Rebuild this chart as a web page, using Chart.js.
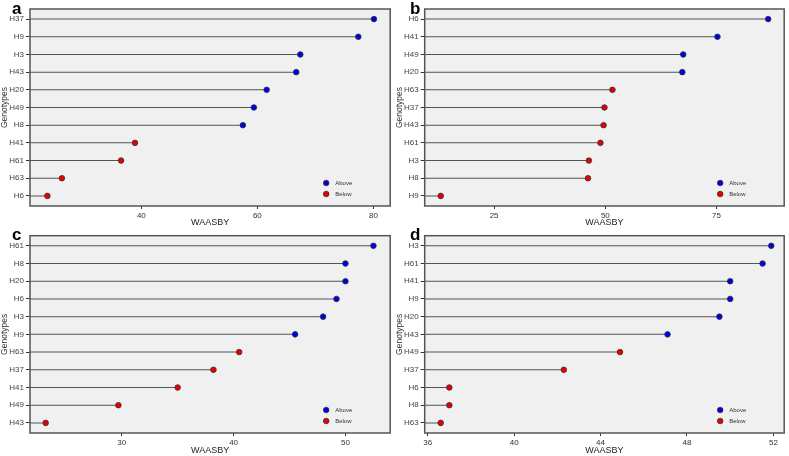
<!DOCTYPE html>
<html>
<head>
<meta charset="utf-8">
<script src="https://cdn.jsdelivr.net/npm/chart.js@4.4.0/dist/chart.umd.min.js"></script>
<style>
  body { margin: 0; background: #fff; width: 789px; height: 456px; position: relative; overflow: hidden; }
  .panel { position: absolute; }
</style>
</head>
<body>
<div class="panel" style="left:0;top:0"><canvas id="ca" width="395" height="228"></canvas></div>
<div class="panel" style="left:395px;top:0"><canvas id="cb" width="394" height="228"></canvas></div>
<div class="panel" style="left:0;top:228px"><canvas id="cc" width="395" height="228"></canvas></div>
<div class="panel" style="left:395px;top:228px"><canvas id="cd" width="394" height="228"></canvas></div>
<script>
// Datos de cada panel (de arriba hacia abajo)
const aGenotypes = ['H37', 'H9', 'H3', 'H43', 'H20', 'H49', 'H8', 'H41', 'H61', 'H63', 'H6'];
const aValues = [80.1, 77.4, 67.4, 66.7, 61.6, 59.4, 57.5, 38.9, 36.5, 26.3, 23.8];
const aGroups = ['Above', 'Above', 'Above', 'Above', 'Above', 'Above', 'Above', 'Below', 'Below', 'Below', 'Below'];
const aTicks = [40, 60, 80];

const bGenotypes = ['H6', 'H41', 'H49', 'H20', 'H63', 'H37', 'H43', 'H61', 'H3', 'H8', 'H9'];
const bValues = [86.6, 75.2, 67.5, 67.3, 51.6, 49.8, 49.6, 48.9, 46.3, 46.1, 13.0];
const bGroups = ['Above', 'Above', 'Above', 'Above', 'Below', 'Below', 'Below', 'Below', 'Below', 'Below', 'Below'];
const bTicks = [25, 50, 75];

const cGenotypes = ['H61', 'H8', 'H20', 'H6', 'H3', 'H9', 'H63', 'H37', 'H41', 'H49', 'H43'];
const cValues = [52.5, 50.0, 50.0, 49.2, 48.0, 45.5, 40.5, 38.2, 35.0, 29.7, 23.2];
const cGroups = ['Above', 'Above', 'Above', 'Above', 'Above', 'Above', 'Below', 'Below', 'Below', 'Below', 'Below'];
const cTicks = [30, 40, 50];

const dGenotypes = ['H3', 'H61', 'H41', 'H9', 'H20', 'H43', 'H49', 'H37', 'H6', 'H8', 'H63'];
const dValues = [51.9, 51.5, 50.0, 50.0, 49.5, 47.1, 44.9, 42.3, 37.0, 37.0, 36.6];
const dGroups = ['Above', 'Above', 'Above', 'Above', 'Above', 'Above', 'Below', 'Below', 'Below', 'Below', 'Below'];
const dTicks = [36, 40, 44, 48, 52];

const groupColors = { Above: '#0000e8', Below: '#e80000' };
const FONT = '"Liberation Sans", Arial, sans-serif';

// Fondo, marco, leyenda interna y letra del panel
const panelDecor = {
    id: 'panelDecor',
    beforeDraw(chart) {
        const { ctx, chartArea: a } = chart;
        ctx.save();
        ctx.fillStyle = '#f0f0f0';
        ctx.fillRect(a.left, a.top, a.right - a.left, a.bottom - a.top);
        ctx.restore();
    },
    afterDraw(chart, args, opts) {
        const { ctx, chartArea: a } = chart;
        ctx.save();
        ctx.strokeStyle = '#555';
        ctx.lineWidth = 1.5;
        ctx.strokeRect(a.left, a.top, a.right - a.left, a.bottom - a.top);

        // leyenda
        const pts = chart.data.datasets.filter(d => d.type === 'scatter');
        pts.forEach((ds, i) => {
            const x = a.right - 64;
            const y = a.bottom - 23 + i * 11;
            ctx.beginPath();
            ctx.arc(x, y, 2.8, 0, Math.PI * 2);
            ctx.fillStyle = ds.backgroundColor;
            ctx.fill();
            ctx.lineWidth = 0.8;
            ctx.strokeStyle = '#333';
            ctx.stroke();
            ctx.fillStyle = '#333';
            ctx.font = '6px ' + FONT;
            ctx.textBaseline = 'middle';
            ctx.fillText(ds.label, x + 9, y + 0.5);
        });

        // letra del panel
        ctx.fillStyle = '#000';
        ctx.font = 'bold 17px ' + FONT;
        ctx.textBaseline = 'alphabetic';
        ctx.fillText(opts.letter, opts.lx, opts.ly);
        ctx.restore();
    }
};

function makePanel(id, genotypes, values, groups, ticks, xmin, xmax, box, letter) {
    const canvas = document.getElementById(id);
    const W = canvas.width, H = canvas.height;
    const n = genotypes.length;
    const rowOf = i => n - 1 - i;

    const stems = values.map((v, i) => ({ x: v, y: rowOf(i) }));
    const scatterFor = g => values
        .map((v, i) => ({ x: v, y: rowOf(i), g: groups[i] }))
        .filter(p => p.g === g);

    new Chart(canvas, {
        type: 'bar',
        data: {
            datasets: [
                {
                    type: 'bar',
                    data: stems,
                    backgroundColor: '#555',
                    borderWidth: 0,
                    barThickness: 1,
                    inflateAmount: 0,
                    order: 2
                },
                ...['Above', 'Below'].map(g => ({
                    type: 'scatter',
                    label: g,
                    data: scatterFor(g),
                    backgroundColor: groupColors[g],
                    borderColor: '#333',
                    borderWidth: 0.8,
                    pointRadius: 2.8,
                    order: 1
                }))
            ]
        },
        options: {
            indexAxis: 'y',
            responsive: false,
            animation: false,
            layout: { padding: { top: box.top, right: W - box.right, left: 0, bottom: 0 } },
            plugins: {
                legend: { display: false },
                tooltip: { enabled: false },
                panelDecor: { letter: letter.t, lx: letter.x, ly: letter.y }
            },
            scales: {
                x: {
                    type: 'linear',
                    min: xmin,
                    max: xmax,
                    afterBuildTicks: s => { s.ticks = ticks.map(v => ({ value: v })); },
                    afterFit: s => { s.height = H - box.bottom; },
                    border: { display: false },
                    grid: { drawOnChartArea: false, tickLength: 3, color: '#333' },
                    ticks: { padding: 2, color: '#333', font: { size: 8, family: FONT } },
                    title: { display: true, text: 'WAASBY', color: '#222', padding: 0, font: { size: 9, family: FONT } }
                },
                y: {
                    type: 'linear',
                    offset: false,
                    min: -0.57,
                    max: n - 1 + 0.57,
                    afterBuildTicks: s => { s.ticks = genotypes.map((g, i) => ({ value: rowOf(i) })); },
                    afterFit: s => { s.width = box.left; },
                    border: { display: false },
                    grid: { offset: false, drawOnChartArea: false, tickLength: 4, color: '#333' },
                    ticks: {
                        padding: 2,
                        color: '#444',
                        font: { size: 8, family: FONT },
                        autoSkip: false,
                        callback: v => genotypes[n - 1 - v]
                    },
                    title: { display: true, text: 'Genotypes', color: '#333', padding: 0, font: { size: 8.5, family: FONT } }
                }
            }
        },
        plugins: [panelDecor]
    });
}

document.addEventListener('DOMContentLoaded', function () {
    makePanel('ca', aGenotypes, aValues, aGroups, aTicks, 20.8, 82.9,
        { left: 30, right: 392, top: 9, bottom: 206 }, { t: 'a', x: 12, y: 14 });
    makePanel('cb', bGenotypes, bValues, bGroups, bTicks, 9.4, 90.2,
        { left: 29.7, right: 391.7, top: 9, bottom: 206 }, { t: 'b', x: 15, y: 14 });
    makePanel('cc', cGenotypes, cValues, cGroups, cTicks, 21.8, 54.0,
        { left: 30, right: 392.7, top: 7.7, bottom: 205 }, { t: 'c', x: 12, y: 12 });
    makePanel('cd', dGenotypes, dValues, dGroups, dTicks, 35.86, 52.5,
        { left: 29.7, right: 390, top: 7.7, bottom: 205 }, { t: 'd', x: 15, y: 12 });
});
</script>
</body>
</html>
